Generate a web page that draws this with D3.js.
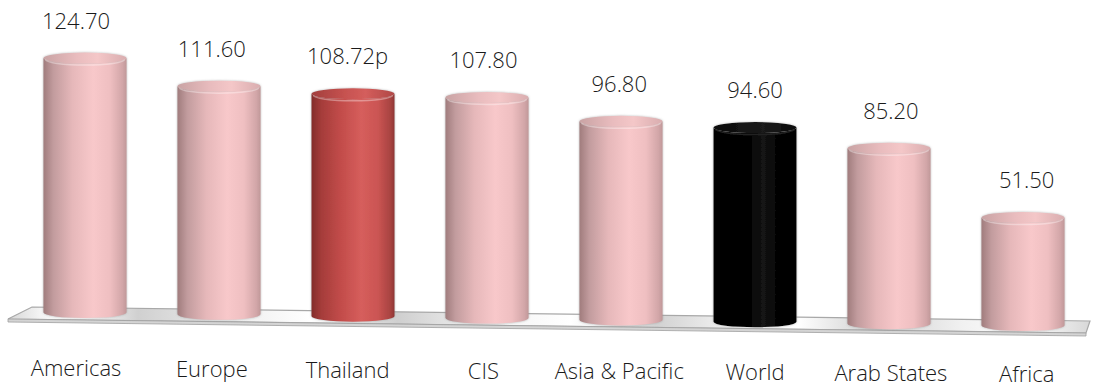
<!DOCTYPE html>
<html>
<head>
<meta charset="utf-8">
<script src="https://cdn.jsdelivr.net/npm/d3@7"></script>
<style>
  html, body { margin: 0; padding: 0; background: #fff; }
  svg { display: block; }
  text { font-family: "Open Sans", "Noto Sans", sans-serif; fill: #1a1a1a; }
</style>
</head>
<body>
<svg id="chart" width="1094" height="389"></svg>
<script>
// ---- data ----
const categories = ["Americas", "Europe", "Thailand", "CIS", "Asia & Pacific", "World", "Arab States", "Africa"];
const values = [124.70, 111.60, 108.72, 107.80, 96.80, 94.60, 85.20, 51.50];
const valueLabels = ["124.70", "111.60", "108.72p", "107.80", "96.80", "94.60", "85.20", "51.50"];
const barKinds = ["region", "region", "thailand", "region", "region", "world", "region", "region"];

// ---- layout ----
const W = 1094, H = 389;
const svg = d3.select("#chart");
const defs = svg.append("defs");

const x = d3.scaleBand().domain(categories).range([18, 1090]).paddingInner(0.38).paddingOuter(0.19);
const y = d3.scaleLinear().domain([0, 130]).range([16, 16 + 130 * 2.0]);
// floor base line (perspective tilt)
const base = d3.scaleLinear().domain([85, 1023]).range([318, 331]);
const labelBase = d3.scaleLinear().domain([85, 1023]).range([376, 382]);
const persp = xc => xc + (xc - 750) * 0.0135;

// gradients
function cylGrad(id, stops) {
  const g = defs.append("linearGradient").attr("id", id).attr("x1", "0").attr("x2", "1").attr("y1", "0").attr("y2", "0");
  stops.forEach(s => g.append("stop").attr("offset", s[0]).attr("stop-color", s[1]));
}
cylGrad("g-region", [[0, "#a07c7d"], [0.12, "#c29c9e"], [0.35, "#e6b8ba"], [0.6, "#f8c8ca"], [0.8, "#efbfc1"], [0.95, "#d2a6a8"], [1, "#c09899"]]);
cylGrad("g-thailand", [[0, "#822c2a"], [0.12, "#a53c3a"], [0.35, "#c24c4a"], [0.6, "#d65e5c"], [0.8, "#cb5553"], [0.95, "#a84341"], [1, "#8f3634"]]);
cylGrad("g-world", [[0, "#000"], [0.45, "#050505"], [0.6, "#141414"], [0.75, "#060606"], [1, "#000"]]);
cylGrad("c-region", [[0, "#c9a3a4"], [0.4, "#e9bcbe"], [0.65, "#f4c7c8"], [1, "#d9adaf"]]);
cylGrad("c-thailand", [[0, "#a23e3c"], [0.4, "#c65250"], [0.65, "#d45e5c"], [1, "#b04846"]]);
cylGrad("c-world", [[0, "#0a0a0a"], [0.6, "#1a1a1a"], [1, "#0a0a0a"]]);

const fg = defs.append("linearGradient").attr("id", "g-floor").attr("x1", "0").attr("x2", "1").attr("y1", "0").attr("y2", "0");
const floorStops = [[0, "#d6d6d6"], [0.03, "#f4f4f4"], [0.07, "#ffffff"], [0.12, "#d0d0d0"], [0.2, "#ececec"], [0.28, "#ffffff"], [0.36, "#cfcfcf"], [0.44, "#f2f2f2"], [0.52, "#ffffff"], [0.6, "#d2d2d2"], [0.67, "#f4f4f4"], [0.73, "#ffffff"], [0.8, "#d0d0d0"], [0.88, "#f0f0f0"], [0.94, "#ffffff"], [1, "#d8d8d8"]];
floorStops.forEach(s => fg.append("stop").attr("offset", s[0]).attr("stop-color", s[1]));

const blur = defs.append("filter").attr("id", "soft").attr("x", "-10%").attr("y", "-10%").attr("width", "120%").attr("height", "120%");
blur.append("feGaussianBlur").attr("in", "SourceAlpha").attr("stdDeviation", 1.2).attr("result", "b");
blur.append("feFlood").attr("flood-color", "#888").attr("flood-opacity", 0.6);
blur.append("feComposite").attr("in2", "b").attr("operator", "in").attr("result", "s");
const fm = blur.append("feMerge");
fm.append("feMergeNode").attr("in", "s");
fm.append("feMergeNode").attr("in", "SourceGraphic");

// ---- floor ----
const floorTop = [[32, 307], [1090, 321], [1086, 333], [8, 319]];
const floorFront = [[8, 319], [1086, 333], [1086, 336], [8, 322]];
svg.append("path").attr("d", "M" + floorTop.join("L") + "Z")
  .attr("fill", "url(#g-floor)").attr("stroke", "#a8a8a8").attr("stroke-width", 1.2);
svg.append("path").attr("d", "M" + floorFront.join("L") + "Z")
  .attr("fill", "#d4d4d4").attr("stroke", "#a0a0a0").attr("stroke-width", 0.8);

// ---- cylinders ----
const ry = 5.5;
const bars = svg.append("g").selectAll("g").data(categories).join("g").attr("filter", "url(#soft)");
bars.each(function (c, i) {
  const g = d3.select(this);
  const bw = x.bandwidth();
  const x0 = x(c), x1 = x0 + bw, rx = bw / 2;
  const xc = x0 + rx;
  const bottom = base(xc);
  const top = bottom - y(values[i]);
  const topCy = top + ry, botCy = bottom - ry;
  const kind = barKinds[i];
  g.append("path")
    .attr("d", `M${x0},${topCy} L${x0},${botCy} A${rx},${ry} 0 0 0 ${x1},${botCy} L${x1},${topCy} A${rx},${ry} 0 0 1 ${x0},${topCy} Z`)
    .attr("fill", `url(#g-${kind})`);
  g.append("ellipse").attr("cx", xc).attr("cy", topCy).attr("rx", rx).attr("ry", ry)
    .attr("fill", `url(#c-${kind})`);
  g.append("path")
    .attr("d", `M${x0 + 2},${topCy + 1.5} A${rx - 2},${ry} 0 0 0 ${x1 - 2},${topCy + 1.5}`)
    .attr("fill", "none").attr("stroke", kind === "world" ? "#222" : "rgba(255,255,255,0.35)").attr("stroke-width", 1.5);
});

// ---- value labels ----
svg.append("g").selectAll("text").data(categories).join("text")
  .attr("x", c => persp(x(c) + x.bandwidth() / 2))
  .attr("y", (c, i) => base(x(c) + x.bandwidth() / 2) - y(values[i]) - 24)
  .attr("text-anchor", "middle")
  .attr("font-size", 22)
  .attr("font-weight", 300)
  .text((c, i) => valueLabels[i]);

// ---- category labels ----
svg.append("g").selectAll("text").data(categories).join("text")
  .attr("x", c => persp(x(c) + x.bandwidth() / 2))
  .attr("y", c => labelBase(x(c) + x.bandwidth() / 2))
  .attr("text-anchor", "middle")
  .attr("font-size", 22)
  .attr("font-weight", 300)
  .text(c => c);
</script>
</body>
</html>
